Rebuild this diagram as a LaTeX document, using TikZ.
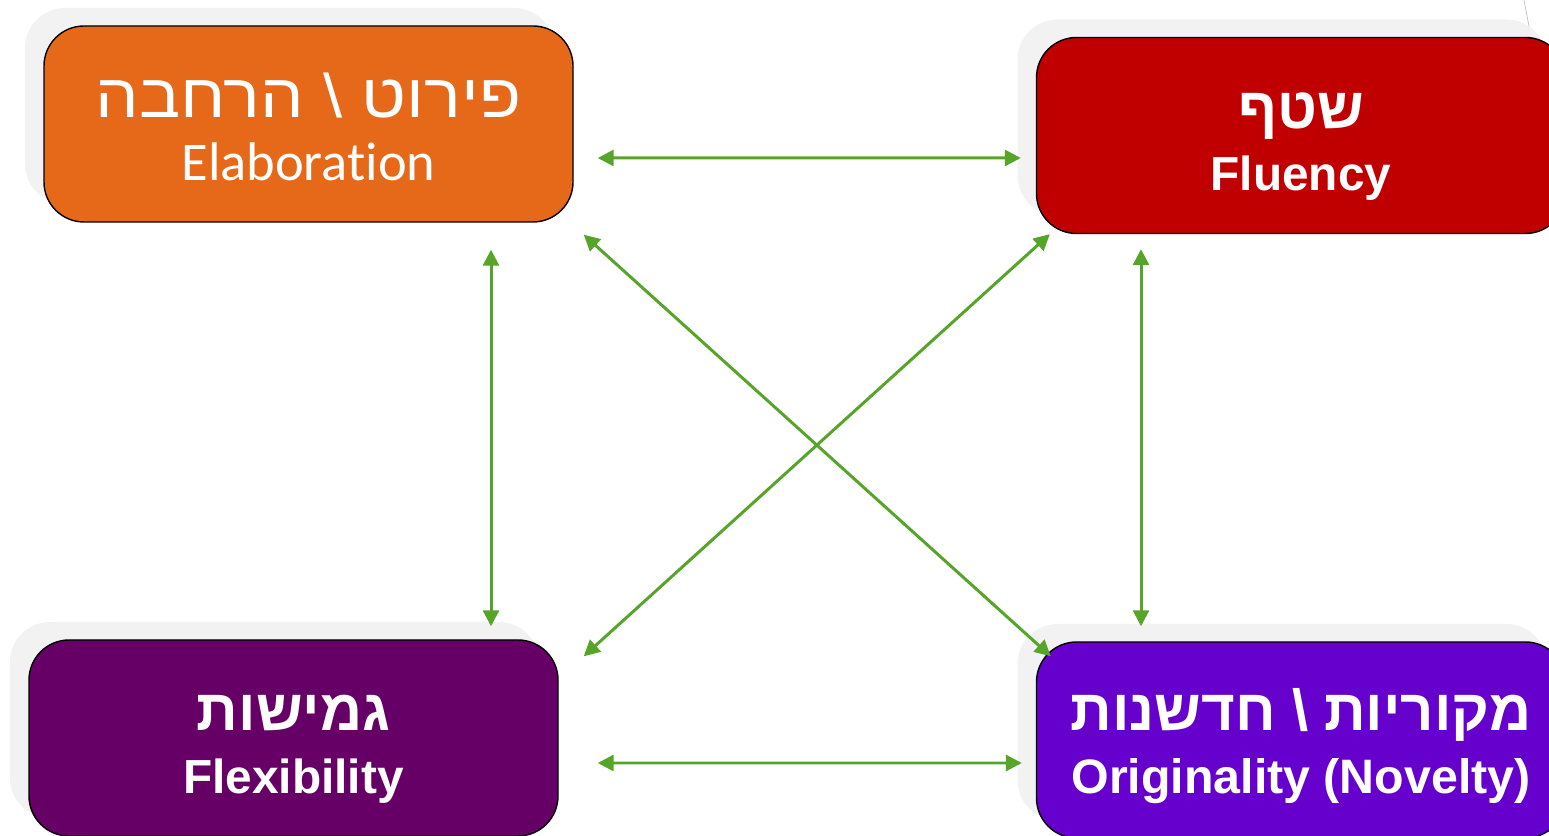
\documentclass[tikz,border=0pt]{standalone}
\usepackage{fontspec}
\setmainfont{Liberation Sans}
\newfontfamily\hebfont[Script=Hebrew]{Liberation Sans}
\newfontfamily\hebwide[Script=Hebrew,FakeStretch=1.12]{Liberation Sans}
\newfontfamily\calfont[Ligatures=NoCommon]{Carlito}
\TeXXeTstate=1
\usetikzlibrary{arrows.meta,shadows}
\definecolor{elacol}{HTML}{E66819}
\definecolor{flucol}{HTML}{C00000}
\definecolor{flexcol}{HTML}{660066}
\definecolor{oricol}{HTML}{6600CC}
\definecolor{linkgreen}{HTML}{57A42A}
\definecolor{shadowgray}{HTML}{F2F2F2}
\begin{document}
\begin{tikzpicture}[
  box/.style={draw=black, line width=0.8pt, rounded corners=0.8cm,
    minimum width=10.58cm, minimum height=3.92cm, text=white, align=center,
    font=\fontsize{27}{35.7}\selectfont,
    general shadow={fill=shadowgray, shadow xshift=-0.38cm, shadow yshift=0.36cm}},
  link/.style={linkgreen, line width=1.7pt,
    {Triangle[length=0.32cm,width=0.32cm]}-{Triangle[length=0.32cm,width=0.32cm]}}]
\useasboundingbox (0,0) rectangle (30.98,16.72);
\clip (0,0) rectangle (30.98,16.72);
\draw [gray!50, line width=0.4pt] (30.48,16.72)--(30.62,15.98);
\node [box, fill=elacol] (ela) at (6.17,14.24)
  {{\hebwide\fontsize{35}{35.7}\selectfont\rule{0pt}{29pt}\beginR פירוט \textbackslash{} הרחבה\endR}\\
   {\calfont\fontsize{31}{35.7}\selectfont Elaboration}};
\node [box, fill=flucol] (flu) at (26.02,14.01)
  {{\hebfont\bfseries\fontsize{33}{35.7}\selectfont\rule{0pt}{33pt}\beginR שטף\endR}\\
   {\bfseries\fontsize{27.2}{35.7}\selectfont Fluency}};
\node [box, fill=flexcol] (flex) at (5.87,1.96)
  {{\hebfont\bfseries\fontsize{33}{35.7}\selectfont\rule{0pt}{33pt}\beginR גמישות\endR}\\
   {\bfseries\fontsize{27.2}{35.7}\selectfont Flexibility}};
\node [box, fill=oricol] (ori) at (26.02,1.92)
  {{\hebfont\bfseries\fontsize{33}{35.7}\selectfont\rule{0pt}{31pt}\beginR מקוריות \textbackslash{} חדשנות\endR}\\
   {\bfseries\fontsize{27.5}{35.7}\selectfont Originality (Novelty)}};
\draw [link] ([shift={(0.48,-0.68)}]ela.east)--([shift={(-0.30,-0.45)}]flu.west);
\draw [link] ([shift={(0.78,-0.50)}]flex.east)--([shift={(-0.28,-0.46)}]ori.west);
\draw [link] ([shift={(3.65,-0.54)}]ela.south)--([shift={(3.95,0.26)}]flex.north);
\draw [link] ([shift={(-3.20,-0.30)}]flu.south)--([shift={(-3.20,0.30)}]ori.north);
\draw [link] ([shift={(0.20,-0.24)}]ela.south east)--([shift={(0.30,-0.30)}]ori.north west);
\draw [link] ([shift={(0.28,0)}]flu.south west)--([shift={(0.50,-0.34)}]flex.north east);
\end{tikzpicture}
\end{document}
